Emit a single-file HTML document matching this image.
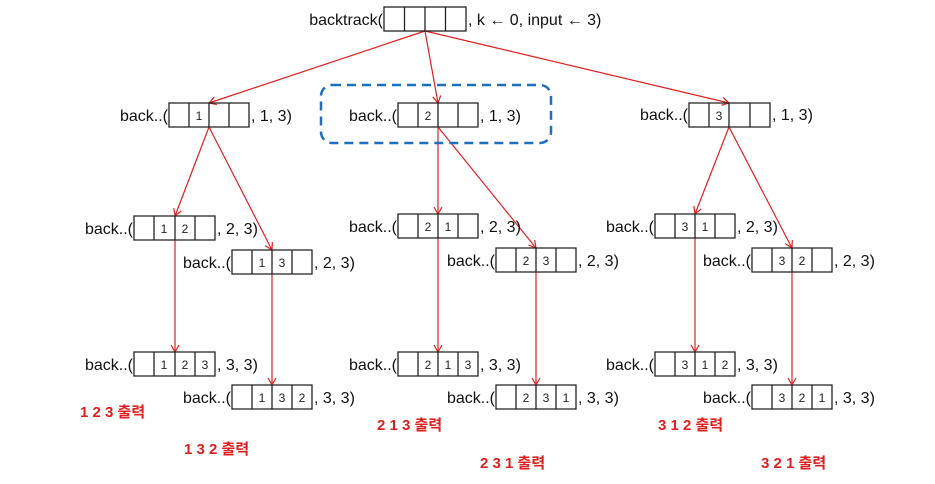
<!DOCTYPE html>
<html><head><meta charset="utf-8"><style>
html,body{margin:0;padding:0;background:#fff;}
svg{display:block;}
text{font-family:"Liberation Sans","Noto Sans CJK KR",sans-serif;}
.l{font-size:16px;fill:#111;}
.n{font-size:12px;fill:#222;text-anchor:middle;}
.r{font-size:15px;fill:#e02020;font-weight:bold;}
</style></head><body>
<svg width="935" height="484" viewBox="0 0 935 484" xmlns="http://www.w3.org/2000/svg">
<defs>
<marker id="a" markerWidth="10" markerHeight="10" refX="8" refY="5" orient="auto" markerUnits="userSpaceOnUse">
<path d="M1,1 L8,5 L1,9" fill="none" stroke="#e02020" stroke-width="1.2"/>
</marker>
</defs>
<g stroke="#e02020" stroke-width="1.2" fill="none" marker-end="url(#a)">
<line x1="425" y1="31" x2="209" y2="103"/>
<line x1="425" y1="31" x2="438" y2="103"/>
<line x1="425" y1="31" x2="729" y2="103"/>
<line x1="209" y1="127" x2="175" y2="216"/>
<line x1="209" y1="127" x2="272" y2="250"/>
<line x1="438" y1="127" x2="438" y2="214"/>
<line x1="438" y1="127" x2="536" y2="248"/>
<line x1="729" y1="127" x2="695" y2="214"/>
<line x1="729" y1="127" x2="792" y2="248"/>
<line x1="175" y1="240" x2="175" y2="352"/>
<line x1="272" y1="273" x2="272" y2="385"/>
<line x1="438" y1="238" x2="438" y2="352"/>
<line x1="536" y1="272" x2="536" y2="385"/>
<line x1="695" y1="238" x2="695" y2="352"/>
<line x1="792" y1="272" x2="792" y2="385"/>
</g>
<rect x="321" y="85" width="230" height="58" rx="11" fill="none" stroke="#1f6fbf" stroke-width="2.5" stroke-dasharray="9,6"/>
<g id="boxes" stroke="#222" stroke-width="1.3" fill="none">
<!-- root -->
<rect x="384" y="7" width="82" height="24"/><line x1="404.5" y1="7" x2="404.5" y2="31"/><line x1="425" y1="7" x2="425" y2="31"/><line x1="445.5" y1="7" x2="445.5" y2="31"/>
</g>
<text class="l" x="383" y="25" text-anchor="end">backtrack(</text>
<text class="l" x="468" y="25">, k ← 0, input ← 3)</text>
<g stroke="#222" stroke-width="1.3" fill="none">
<path d="M169,103h80v24h-80zM189,103v24M209,103v24M229,103v24"/>
<path d="M398,103h80v24h-80zM418,103v24M438,103v24M458,103v24"/>
<path d="M689,103h81v24h-81zM709,103v24M729,103v24M750,103v24"/>
<path d="M134,216h81v24h-81zM154,216v24M175,216v24M195,216v24"/>
<path d="M232,250h80v24h-80zM252,250v24M272,250v24M292,250v24"/>
<path d="M398,214h80v24h-80zM418,214v24M438,214v24M458,214v24"/>
<path d="M496,248h80v24h-80zM516,248v24M536,248v24M556,248v24"/>
<path d="M655,214h80v24h-80zM675,214v24M695,214v24M715,214v24"/>
<path d="M752,248h80v24h-80zM772,248v24M792,248v24M812,248v24"/>
<path d="M134,352h81v24h-81zM154,352v24M175,352v24M195,352v24"/>
<path d="M232,385h80v24h-80zM252,385v24M272,385v24M292,385v24"/>
<path d="M398,352h80v24h-80zM418,352v24M438,352v24M458,352v24"/>
<path d="M496,385h80v24h-80zM516,385v24M536,385v24M556,385v24"/>
<path d="M655,352h80v24h-80zM675,352v24M695,352v24M715,352v24"/>
<path d="M752,385h80v24h-80zM772,385v24M792,385v24M812,385v24"/>
</g>
<!-- labels -->
<g class="l">
<text x="168" y="121" text-anchor="end">back..(</text><text x="251" y="121">, 1, 3)</text>
<text x="397" y="121" text-anchor="end">back..(</text><text x="480" y="121">, 1, 3)</text>
<text x="688" y="120" text-anchor="end">back..(</text><text x="772" y="120">, 1, 3)</text>
<text x="133" y="234" text-anchor="end">back..(</text><text x="217" y="234">, 2, 3)</text>
<text x="231" y="268" text-anchor="end">back..(</text><text x="314" y="268">, 2, 3)</text>
<text x="397" y="232" text-anchor="end">back..(</text><text x="480" y="232">, 2, 3)</text>
<text x="495" y="266" text-anchor="end">back..(</text><text x="578" y="266">, 2, 3)</text>
<text x="654" y="232" text-anchor="end">back..(</text><text x="737" y="232">, 2, 3)</text>
<text x="751" y="266" text-anchor="end">back..(</text><text x="834" y="266">, 2, 3)</text>
<text x="133" y="370" text-anchor="end">back..(</text><text x="217" y="370">, 3, 3)</text>
<text x="231" y="403" text-anchor="end">back..(</text><text x="314" y="403">, 3, 3)</text>
<text x="397" y="370" text-anchor="end">back..(</text><text x="480" y="370">, 3, 3)</text>
<text x="495" y="403" text-anchor="end">back..(</text><text x="578" y="403">, 3, 3)</text>
<text x="654" y="370" text-anchor="end">back..(</text><text x="737" y="370">, 3, 3)</text>
<text x="751" y="403" text-anchor="end">back..(</text><text x="834" y="403">, 3, 3)</text>
</g>
<g class="n">
<text x="199" y="120">1</text>
<text x="428" y="120">2</text>
<text x="719" y="120">3</text>
<text x="164" y="233">1</text><text x="185" y="233">2</text>
<text x="262" y="267">1</text><text x="282" y="267">3</text>
<text x="428" y="231">2</text><text x="448" y="231">1</text>
<text x="526" y="265">2</text><text x="546" y="265">3</text>
<text x="685" y="231">3</text><text x="705" y="231">1</text>
<text x="782" y="265">3</text><text x="802" y="265">2</text>
<text x="164" y="369">1</text><text x="185" y="369">2</text><text x="205" y="369">3</text>
<text x="262" y="402">1</text><text x="282" y="402">3</text><text x="302" y="402">2</text>
<text x="428" y="369">2</text><text x="448" y="369">1</text><text x="468" y="369">3</text>
<text x="526" y="402">2</text><text x="546" y="402">3</text><text x="566" y="402">1</text>
<text x="685" y="369">3</text><text x="705" y="369">1</text><text x="725" y="369">2</text>
<text x="782" y="402">3</text><text x="802" y="402">2</text><text x="822" y="402">1</text>
</g>
<g class="r">
<text x="80" y="417" xml:space="preserve">1 2 3 출력</text>
<text x="184" y="454" xml:space="preserve">1 3 2 출력</text>
<text x="377" y="430" xml:space="preserve">2 1 3 출력</text>
<text x="480" y="468" xml:space="preserve">2 3 1 출력</text>
<text x="658" y="430" xml:space="preserve">3 1 2 출력</text>
<text x="761" y="468" xml:space="preserve">3 2 1 출력</text>
</g>
</svg>
</body></html>
